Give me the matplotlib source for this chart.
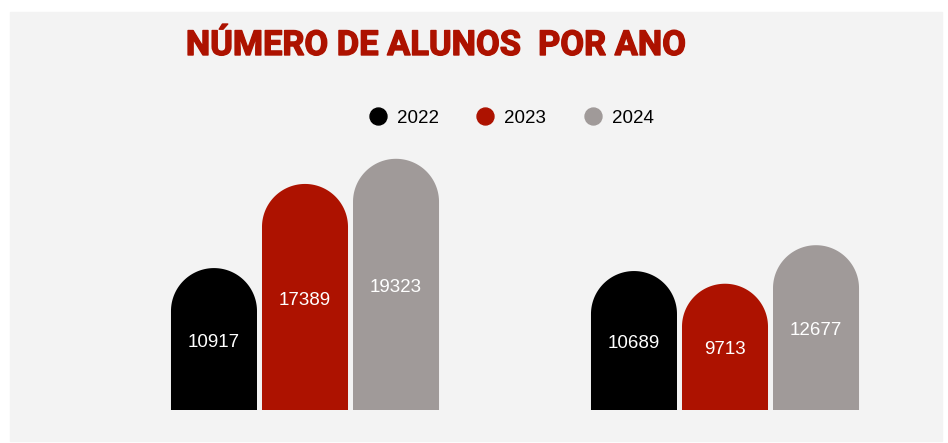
import matplotlib
matplotlib.use("Agg")
import matplotlib.pyplot as plt
import numpy as np
from matplotlib.patches import Rectangle, Polygon
from matplotlib.lines import Line2D
from matplotlib.transforms import offset_copy
import matplotlib.patheffects as pe

# ---- data ----
years = ["2022", "2023", "2024"]
groups = ["Grupo 1", "Grupo 2"]
values_2022 = [10917, 10689]
values_2023 = [17389, 9713]
values_2024 = [19323, 12677]
series = [values_2022, values_2023, values_2024]
colors = ["#000000", "#ad1200", "#a09a99"]
title = "NÚMERO DE ALUNOS  POR ANO"

W, H = 948, 443
fig = plt.figure(figsize=(W / 100, H / 100), dpi=100)
fig.patch.set_facecolor("white")
fig.patches.append(Rectangle((10 / W, 1 - 441 / H), 932 / W, 429 / H,
                             transform=fig.transFigure, color="#f3f3f3", zorder=-5))

ax = fig.add_axes([10 / W, 33 / H, 932 / W, 260 / H])
ax.set_zorder(2)
ax.set_facecolor("none")
ax.axis("off")
ax.set_xlim(-295 / 420, 637 / 420)
ax.set_ylim(0, 20000)

width = 0.2048
step = 0.2167
pos = np.arange(len(groups))

p0 = ax.transData.transform((0, 0))
p1 = ax.transData.transform((1, 1))
sx, sy = p1[0] - p0[0], p1[1] - p0[1]
label_tr = offset_copy(ax.transData, fig=fig, x=0, y=-2.2, units="points")

for i, (vals, c) in enumerate(zip(series, colors)):
    xs = pos + (i - 1) * step
    for xc, v in zip(xs, vals):
        rx = width / 2
        ry = rx * sx / sy
        t = np.linspace(np.pi, 0, 80)
        arc = np.column_stack([xc + rx * np.cos(t), v - ry + ry * np.sin(t)])
        verts = np.vstack([[xc - rx, 0], arc, [xc + rx, 0]])
        ax.add_patch(Polygon(verts, closed=True, facecolor=c, edgecolor="none"))
        ax.text(xc, v / 2, f"{v}", ha="center", va="center", color="white",
                fontsize=13.5, family="Liberation Sans", transform=label_tr)

fig.text(437 / W, 1 - 46 / H, title, ha="center", va="center",
         fontsize=24.8, fontweight="bold", color="#ad1200", family="Roboto",
         path_effects=[pe.withStroke(linewidth=1.0, foreground="#ad1200")])

handles = [Line2D([], [], marker="o", linestyle="none", markersize=12.2,
                  markerfacecolor=c, markeredgecolor=c) for c in colors]
leg = fig.legend(handles, years, loc="center", bbox_to_anchor=(511 / W, 1 - 118 / H),
                 ncol=3, frameon=False, handlelength=1.0, handletextpad=0.5,
                 columnspacing=2.0, prop={"family": "Liberation Sans", "size": 13.5})

fig.savefig("out.png", dpi=100, facecolor="white")
